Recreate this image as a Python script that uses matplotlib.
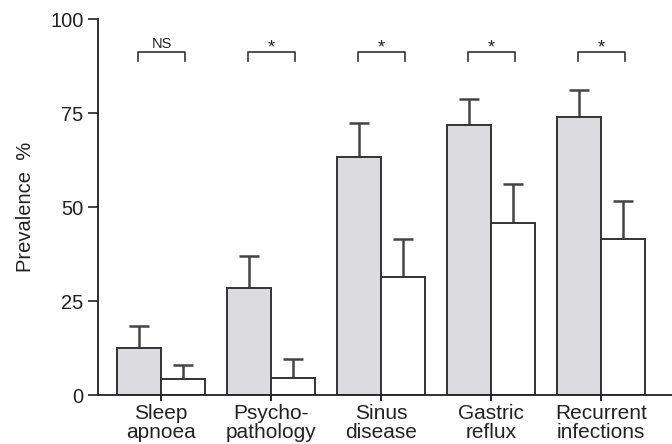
import numpy as np
import matplotlib
matplotlib.use('Agg')
import matplotlib.pyplot as plt

plt.rcParams['font.family'] = ['Liberation Sans', 'DejaVu Sans']

categories = ['Sleep\napnoea', 'Psycho-\npathology', 'Sinus\ndisease', 'Gastric\nreflux', 'Recurrent\ninfections']
grey_vals = [12.7, 28.5, 63.3, 71.8, 74.1]
grey_err = [5.7, 8.5, 9.2, 7.1, 7.1]
white_vals = [4.4, 4.6, 31.5, 45.7, 41.6]
white_err = [3.7, 5.0, 10.0, 10.6, 10.1]
signif = ['NS', '*', '*', '*', '*']

x = np.arange(len(categories))
w = 0.4
edge = '#333333'

fig = plt.figure(figsize=(6.72, 4.44), dpi=100)
ax = fig.add_axes([98 / 672, 48.7 / 444, (672 - 98) / 672, 376 / 444])

ax.bar(x - w / 2, grey_vals, w, color='#dcdcde', edgecolor=edge, linewidth=1.4, zorder=2)
ax.bar(x + w / 2, white_vals, w, color='white', edgecolor=edge, linewidth=1.4, zorder=2)

# upper error bars only
cw = 0.095
for xs, v, e in [(x - w / 2, grey_vals, grey_err), (x + w / 2, white_vals, white_err)]:
    v = np.array(v)
    e = np.array(e)
    ax.vlines(xs, v, v + e, color='#444444', linewidth=1.8, zorder=1)
    ax.hlines(v + e, xs - cw, xs + cw, color='#444444', linewidth=1.8, zorder=1)

# significance brackets
for xi, s in zip(x, signif):
    ax.plot([xi - 0.21, xi - 0.21, xi + 0.22, xi + 0.22], [89.0, 91.2, 91.2, 89.0],
            color='#333333', linewidth=1.2, clip_on=False)
    if s == 'NS':
        ax.text(xi + 0.005, 91.6, s, ha='center', va='bottom', fontsize=10.5, color='#222222')
    else:
        ax.text(xi + 0.005, 90.0, s, ha='center', va='bottom', fontsize=13, color='#222222')

ax.set_xlim(-0.573, 4.645)
ax.set_ylim(0, 100)
ax.set_yticks([0, 25, 50, 75, 100])
ax.set_xticks(x)
ax.set_xticklabels(categories, fontsize=15, linespacing=1.0, color='#222222')
ax.tick_params(axis='y', labelsize=14.5, length=7, width=1.2, pad=3.5, colors='#222222')
ax.tick_params(axis='x', length=4, width=1.2, pad=2)
ax.set_ylabel('Prevalence  %', fontsize=14.5, labelpad=11, color='#222222')

for side in ['top', 'right']:
    ax.spines[side].set_visible(False)
for side in ['left', 'bottom']:
    ax.spines[side].set_linewidth(1.3)
    ax.spines[side].set_color('#222222')

fig.savefig('out.png', dpi=100)
